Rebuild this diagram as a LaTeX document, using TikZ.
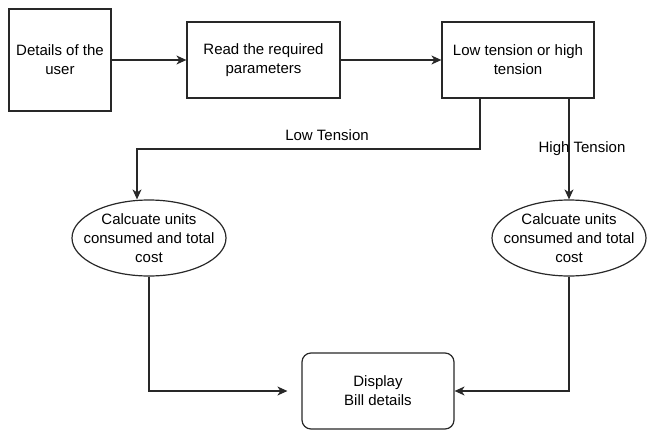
\documentclass[tikz,border=0pt]{standalone}
\usepackage{fontspec}
\setmainfont{Liberation Sans}
\usepackage{tikz}
\usetikzlibrary{calc,positioning,arrows.meta,shapes.geometric}
\definecolor{linecol}{RGB}{40,40,40}

\begin{document}
\begin{tikzpicture}[x=1pt,y=-1pt,
  every node/.style={font=\fontsize{15}{19}\selectfont, align=center, text=black},
  box/.style={draw=linecol, line width=1.2pt, rectangle, minimum width=152pt, minimum height=76pt, inner sep=0pt},
  oval/.style={draw=linecol, line width=1.2pt, ellipse, minimum width=154pt, minimum height=76pt, inner xsep=-15pt, inner ysep=0pt},
  >={Stealth[length=10pt,width=9pt,inset=3pt]}]
\useasboundingbox (0,0) rectangle (653,442);

\node[box, minimum width=102pt, minimum height=102pt] (user) at (60,60) {Details of the\\user};
\node[box, minimum width=153pt] (read) at (263.5,60) {Read the required\\parameters};
\node[box] (tension) at (518,60) {Low tension or high\\tension};
\node[oval] (calcL) at (149,238) {Calcuate units\\consumed and total\\cost};
\node[oval] (calcH) at (569,238) {Calcuate units\\consumed and total\\cost};
\node[box, rounded corners=9pt] (disp) at (378,391) {Display\\ Bill details};

\coordinate (ltout) at (480,98);
\coordinate (ltbend) at (137,149);

\draw[->, draw=linecol, line width=1.2pt] (user) -- (read);
\draw[->, draw=linecol, line width=1.2pt] (read) -- (tension);
%low tension branch
\draw[->, draw=linecol, line width=1.2pt] (ltout) |- (ltbend) -- (calcL.north -| ltbend);
\node (lowlbl) at (327,135) {Low Tension};
%high tension branch
\draw[->, draw=linecol, line width=1.2pt] (tension.south -| calcH.north) -- (calcH.north);
\node (highlbl) at (582,149) {High Tension};
\draw[->, draw=linecol, line width=1.2pt, shorten >=14pt] (calcL.south) |- (disp.west);
\draw[->, draw=linecol, line width=1.2pt] (calcH.south) |- (disp.east);
\end{tikzpicture}
\end{document}
